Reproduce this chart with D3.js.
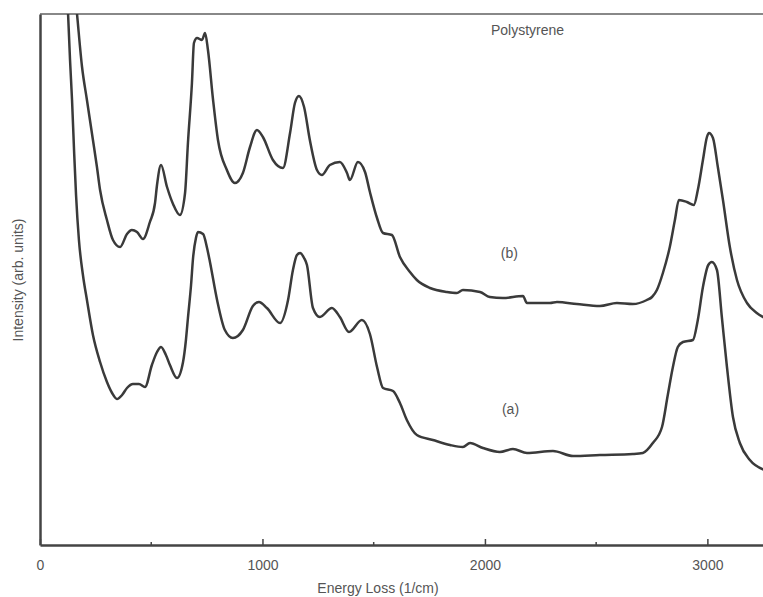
<!DOCTYPE html>
<html>
<head>
<meta charset="utf-8">
<title>Polystyrene</title>
<script src="https://cdn.jsdelivr.net/npm/d3@7"></script>
<style>
    html, body { margin: 0; padding: 0; background: #fff; }
    svg { display: block; }
</style>
</head>
<body>
<svg id="chart" width="763" height="597"></svg>
<script>
"use strict";

/* global d3 */

// energy loss (1/cm) and intensity (arb. units)
var energyB = [117, 166, 189, 211, 238, 256, 270, 301, 328, 360, 391, 413, 436, 463, 494, 517, 526, 544,
    571, 598, 629, 652, 665, 683, 692, 706, 728, 742, 755, 778, 800, 840, 876, 912, 944, 975, 1002,
    1047, 1092, 1124, 1146, 1164, 1187, 1213, 1245, 1267, 1303, 1348, 1380, 1393, 1429, 1461, 1483,
    1515, 1542, 1582, 1618, 1663, 1694, 1753, 1829, 1874, 1901, 1978, 2022, 2081, 2171, 2189, 2292,
    2324, 2413, 2517, 2593, 2665, 2728, 2751, 2773, 2800, 2831, 2854, 2872, 2908, 2939, 2957, 2980,
    2998, 3007, 3025, 3047, 3070, 3101, 3133, 3178, 3222, 3258];
var intensityB = [645, 532, 478, 445, 405, 378, 355, 325, 305, 298, 311, 315, 313, 306, 323, 342, 360, 380,
    358, 341, 330, 352, 402, 462, 502, 507, 505, 512, 495, 445, 405, 375, 362, 372, 398, 415, 408,
    385, 377, 412, 442, 449, 438, 405, 375, 370, 380, 383, 372, 365, 383, 373, 353,
    327, 312, 310, 288, 273, 265, 257, 253, 252, 255, 253, 248, 247, 249, 242, 242,
    243, 241, 239, 242, 241, 245, 248, 255, 272, 298, 325, 345, 343, 340, 355, 385,
    408, 412, 407, 378, 345, 298, 265, 242, 232, 227];

var energyA = [90, 126, 135, 144, 153, 162, 175, 193, 211, 238, 270, 301, 324, 346, 369, 391, 418, 445,
    472, 503, 526, 544, 566, 584, 616, 643, 656, 665, 679, 688, 701, 710, 733, 751, 764, 796, 831,
    867, 912, 957, 984, 1020, 1079, 1115, 1137, 1155, 1169, 1187, 1200, 1227, 1258, 1312, 1348, 1389,
    1447, 1483, 1515, 1542, 1587, 1618, 1649, 1694, 1766, 1843, 1901, 1933, 1991, 2067, 2126, 2189,
    2306, 2396, 2517, 2665, 2710, 2755, 2796, 2822, 2845, 2867, 2890, 2935, 2957, 2980, 3004, 3020,
    3043, 3065, 3088, 3115, 3146, 3191, 3258];
var intensityA = [645, 532, 485, 445, 395, 350, 305, 270, 245, 210, 183, 163, 152, 146, 150, 157, 161, 161,
    158, 180, 193, 198, 190, 180, 167, 183, 205, 227, 260, 287, 307, 313, 311, 297, 283, 245, 215,
    207, 215, 239, 243, 237, 222, 245, 275, 290, 292, 287, 280, 237, 228, 237, 228, 213,
    225, 211, 178, 157, 154, 142, 125, 110, 105, 100, 98, 102, 97, 93, 96, 92,
    94, 89, 90, 91, 92, 102, 118, 150, 178, 198, 203, 205, 225, 258, 280, 283,
    275, 228, 178, 128, 102, 85, 75];

var xTicksMajor = [0, 1000, 2000, 3000];
var xTicksMinor = [500, 1500, 2500];

var curveLabels = [
    { text: "(b)", energy: 2110, intensity: 287 },
    { text: "(a)", energy: 2115, intensity: 131 }
];


(function() {

    var svg = d3.select("#chart");
    var plot = { left: 40, right: 763, top: 14, bottom: 545 };
    var font = "Liberation Sans, Arial, sans-serif";

    var xScale = d3.scaleLinear().domain([0, 3250]).range([plot.left, plot.right]);
    var yScale = d3.scaleLinear().domain([0, 531]).range([plot.bottom, plot.top]);

    svg.append("defs").append("clipPath").attr("id", "plotClip")
        .append("rect")
          .attr("x", plot.left)
          .attr("y", plot.top)
          .attr("width", plot.right - plot.left)
          .attr("height", plot.bottom - plot.top);

    // top frame line (lighter than the axes in the scan)
    svg.append("line")
        .attr("x1", plot.left).attr("x2", plot.right)
        .attr("y1", plot.top).attr("y2", plot.top)
        .attr("stroke", "#888")
        .attr("stroke-width", 2);

    drawSpectrum(energyA, intensityA);
    drawSpectrum(energyB, intensityB);
    addAxes();
    addTexts();


    function drawSpectrum(energies, intensities) {
        var points = d3.zip(energies, intensities);
        var line = d3.line()
            .x(function(d) { return xScale(d[0]); })
            .y(function(d) { return yScale(d[1]); })
            .curve(d3.curveMonotoneX);

        svg.append("path")
            .datum(points)
            .attr("clip-path", "url(#plotClip)")
            .attr("d", line)
            .attr("fill", "none")
            .attr("stroke", "#3a3a3a")
            .attr("stroke-width", 2.5)
            .attr("stroke-linejoin", "round");
    }


    function addAxes() {
        var bottomAxis = d3.axisBottom(xScale)
            .tickValues(xTicksMajor)
            .tickSize(-6)
            .tickSizeOuter(0)
            .tickPadding(15)
            .tickFormat(d3.format("d"));

        var xAxisGroup = svg.append("g")
            .attr("transform", "translate(0," + plot.bottom + ")")
            .call(bottomAxis);

        xAxisGroup.select(".domain").attr("stroke", "#444").attr("stroke-width", 2.5);
        xAxisGroup.selectAll(".tick line").attr("stroke", "#444").attr("stroke-width", 1.5);
        xAxisGroup.selectAll(".tick text")
            .attr("font-family", font)
            .attr("font-size", "14px")
            .attr("fill", "#555");

        xAxisGroup.selectAll(".minor")
            .data(xTicksMinor)
            .enter()
            .append("line")
              .attr("class", "minor")
              .attr("x1", function(d) { return xScale(d); })
              .attr("x2", function(d) { return xScale(d); })
              .attr("y1", 0)
              .attr("y2", -3)
              .attr("stroke", "#444")
              .attr("stroke-width", 1.5);

        var leftAxis = d3.axisLeft(yScale).tickValues([]).tickSizeOuter(0);
        var yAxisGroup = svg.append("g")
            .attr("transform", "translate(" + plot.left + ",0)")
            .call(leftAxis);
        yAxisGroup.select(".domain").attr("stroke", "#444").attr("stroke-width", 2.5);
    }


    function addTexts() {
        svg.append("text")
            .text("Energy Loss (1/cm)")
            .attr("x", 378)
            .attr("y", 593)
            .attr("font-family", font)
            .attr("font-size", "14px")
            .attr("fill", "#555")
            .style("text-anchor", "middle");

        svg.append("text")
            .text("Intensity (arb. units)")
            .attr("transform", "translate(23, 280) rotate(-90)")
            .attr("font-family", font)
            .attr("font-size", "14px")
            .attr("fill", "#555")
            .style("text-anchor", "middle");

        svg.append("text")
            .text("Polystyrene")
            .attr("x", 491)
            .attr("y", 35)
            .attr("font-family", font)
            .attr("font-size", "14px")
            .attr("fill", "#555");

        svg.selectAll(".curveLabel")
            .data(curveLabels)
            .enter()
            .append("text")
              .attr("class", "curveLabel")
              .text(function(d) { return d.text; })
              .attr("x", function(d) { return xScale(d.energy); })
              .attr("y", function(d) { return yScale(d.intensity); })
              .attr("font-family", font)
              .attr("font-size", "14px")
              .attr("fill", "#555")
              .style("text-anchor", "middle");
    }

})();
</script>
</body>
</html>
